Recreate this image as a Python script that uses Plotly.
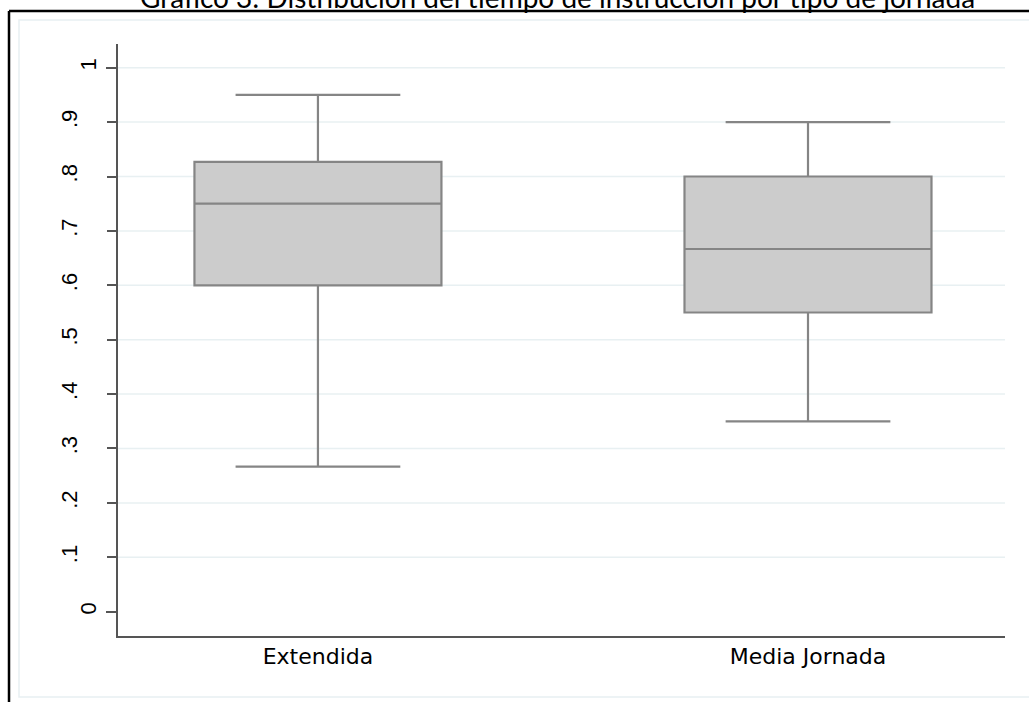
import plotly.graph_objects as go

# ---- data ----
categories = ["Extendida", "Media Jornada"]
positions = [0, 1]
lower_whisker = [0.2667, 0.35]
q1_vals = [0.60, 0.55]
median_vals = [0.75, 0.6667]
q3_vals = [0.827, 0.80]
upper_whisker = [0.95, 0.90]
y_tickvals_outer = [0, 1.0]
y_ticktext_outer = ["0", "1"]
y_tickvals_inner = [0.1, 0.2, 0.3, 0.4, 0.5, 0.6, 0.7, 0.8, 0.9]
y_ticktext_inner = [".1", ".2", ".3", ".4", ".5", ".6", ".7", ".8", ".9"]
grid_vals = [0.1, 0.2, 0.3, 0.4, 0.5, 0.6, 0.7, 0.8, 0.9, 1.0]
title_text = "Gráfico 3: Distribución del tiempo de instrucción por tipo de jornada"

fig = go.Figure()
for i, cat in enumerate(categories):
    fig.add_trace(go.Box(
        x=[positions[i]],
        q1=[q1_vals[i]], median=[median_vals[i]], q3=[q3_vals[i]],
        lowerfence=[lower_whisker[i]], upperfence=[upper_whisker[i]],
        name=cat, width=0.504, whiskerwidth=0.667,
        fillcolor="#cccccc", line=dict(color="#858585", width=2.2),
        boxpoints=False, hoverinfo="skip", showlegend=False,
    ))
# invisible trace to activate the second (overlaying) y axis
fig.add_trace(go.Scatter(x=[positions[0]], y=[median_vals[0]], yaxis="y2", mode="markers",
                         marker=dict(opacity=0), hoverinfo="skip", showlegend=False))

# plot area geometry (pixels): x 118..1005, y 44..636
W, H = 1029, 702
L, R, T, B = 118, 24, 44, 66
pw, ph = W - L - R, H - T - B
def px(x):
    return (x - L) / pw
def py(y):
    return (H - B - y) / ph

shapes = []
for g in grid_vals:
    shapes.append(dict(type="line", xref="paper", yref="y", x0=0, x1=1, y0=g, y1=g,
                       line=dict(color="#e8f0f2", width=1.5), layer="below"))
# outer light frame (graph region)
shapes.append(dict(type="rect", xref="paper", yref="paper", x0=px(19), x1=px(1040), y0=py(697), y1=py(20),
                   line=dict(color="#e8f0f2", width=1.5), layer="below"))
# black border
shapes.append(dict(type="line", xref="paper", yref="paper", x0=px(9), x1=px(1040), y0=py(11), y1=py(11),
                   line=dict(color="black", width=2.5)))
shapes.append(dict(type="line", xref="paper", yref="paper", x0=px(9), x1=px(9), y0=py(11), y1=py(710),
                   line=dict(color="black", width=2.5)))

yr = [-0.0447, 1.0436]
tick_common = dict(ticks="outside", ticklen=10, tickwidth=1.5, tickcolor="#555555", tickangle=-90,
                   tickfont=dict(family="Liberation Sans", size=22, color="black"),
                   showgrid=False, zeroline=False)

fig.update_layout(
    width=W, height=H,
    margin=dict(l=L, r=R, t=T, b=B, pad=0),
    paper_bgcolor="white", plot_bgcolor="white",
    shapes=shapes,
    annotations=[dict(text=title_text, xref="paper", yref="paper", x=px(557), y=py(-3),
                      xanchor="center", yanchor="middle", showarrow=False,
                      font=dict(family="Lato", size=28, color="black"))],
    xaxis=dict(range=[-0.408, 1.402], tickvals=positions, ticktext=categories,
               showgrid=False, zeroline=False, showline=True, linecolor="#555555", linewidth=1.6,
               ticks="", tickfont=dict(family="DejaVu Sans", size=22, color="black")),
    yaxis=dict(range=yr, tickvals=y_tickvals_outer, ticktext=y_ticktext_outer,
               showline=True, linecolor="#555555", linewidth=1.6, ticklabelstandoff=1, **tick_common),
    yaxis2=dict(range=yr, tickvals=y_tickvals_inner, ticktext=y_ticktext_inner, overlaying="y",
                side="left", showline=False, ticklabelstandoff=21, **tick_common),
)

fig.write_html("out.html", config={"displayModeBar": False},
               post_script="document.body.style.margin='0';document.body.style.overflow='hidden';")
